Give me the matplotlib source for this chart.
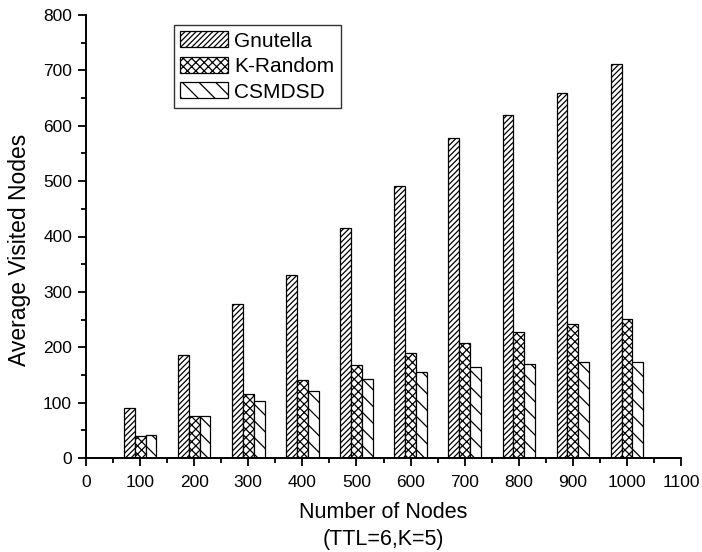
import matplotlib
matplotlib.use('Agg')
import matplotlib.pyplot as plt
import numpy as np
from matplotlib.ticker import MultipleLocator

plt.rcParams['font.family'] = ['Liberation Sans', 'DejaVu Sans']
plt.rcParams['hatch.linewidth'] = 0.9

nodes = [100, 200, 300, 400, 500, 600, 700, 800, 900, 1000]
gnutella = [91, 186, 279, 330, 415, 492, 577, 619, 660, 712]
k_random = [40, 75, 116, 141, 168, 190, 208, 228, 242, 251]
csmdsd = [41, 75, 103, 121, 142, 155, 165, 170, 173, 174]

fig = plt.figure(figsize=(7.02, 5.52), dpi=100)
ax = fig.add_axes([86/702, 94/552, 595/702, 443/552])

x = np.array(nodes)
w = 20
ax.bar(x - w, gnutella, w, color='white', edgecolor='black', hatch='//////', lw=0.9, label='Gnutella')
ax.bar(x, k_random, w, color='white', edgecolor='black', hatch='xxxx', lw=0.9, label='K-Random')
ax.bar(x + w, csmdsd, w, color='white', edgecolor='black', hatch='\\\\', lw=0.9, label='CSMDSD')

ax.set_xlim(0, 1100)
ax.set_ylim(0, 800)
ax.xaxis.set_major_locator(MultipleLocator(100))
ax.xaxis.set_minor_locator(MultipleLocator(50))
ax.yaxis.set_major_locator(MultipleLocator(100))
ax.yaxis.set_minor_locator(MultipleLocator(50))
ax.tick_params(which='major', direction='out', length=6, width=1.3, labelsize=12.5, pad=4)
ax.tick_params(axis='x', which='major', pad=6)
ax.tick_params(which='minor', direction='out', length=3.5, width=1.3)
for s in ['top', 'right']:
    ax.spines[s].set_visible(False)
for s in ['left', 'bottom']:
    ax.spines[s].set_linewidth(1.4)

ax.set_xlabel('Number of Nodes\n(TTL=6,K=5)', fontsize=15.5, linespacing=1.35, labelpad=9)
ax.set_ylabel('Average Visited Nodes', fontsize=16.5)
ax.yaxis.set_label_coords(-0.092, 0.47)

leg = ax.legend(loc='upper left', bbox_to_anchor=(0.148, 0.977), borderaxespad=0,
                fontsize=15, frameon=True, fancybox=False, edgecolor='black',
                handlelength=2.3, handleheight=0.8, handletextpad=0.3,
                labelspacing=0.3, borderpad=0.3)
leg.get_frame().set_linewidth(1.0)

fig.savefig('out.png', dpi=100)
